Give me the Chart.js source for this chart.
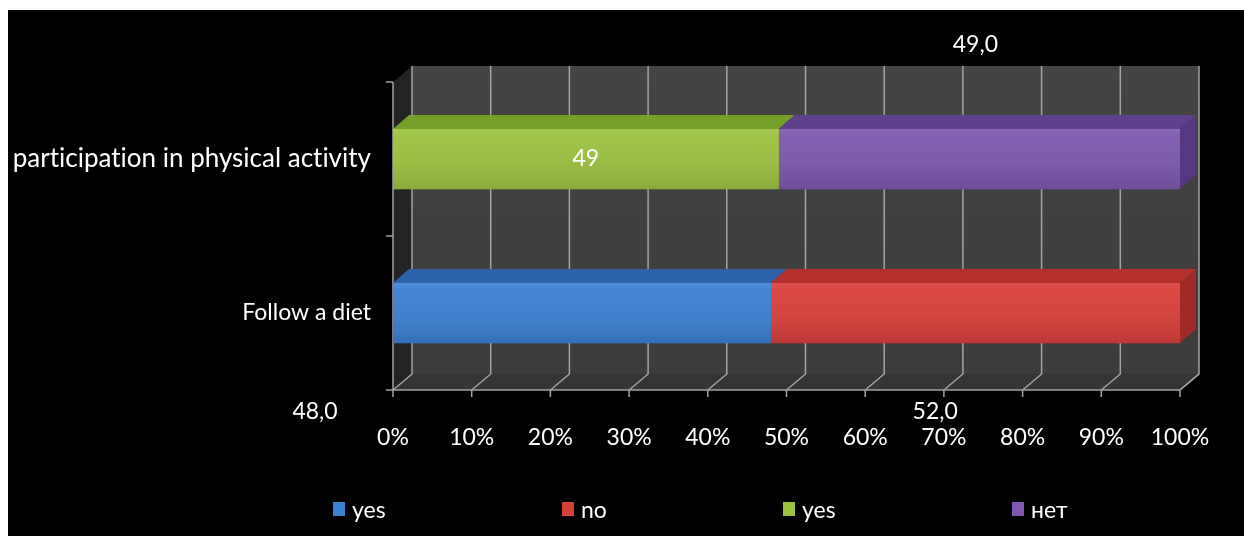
<!DOCTYPE html>
<html>
<head>
<meta charset="utf-8">
<script src="https://cdn.jsdelivr.net/npm/chart.js@4.4.1/dist/chart.umd.min.js"></script>
<style>
  html, body { margin: 0; padding: 0; background: #fff; overflow: hidden; }
  #frame { position: absolute; left: 8px; top: 10px; width: 1236px; height: 526px; background: #000; }
  #myChart { position: absolute; left: 0; top: 0; }
  #legend { position: absolute; left: 325px; top: 485px; display: flex; font-family: Lato, sans-serif; font-size: 23px; color: #fff; }
  .item { display: flex; align-items: center; }
  .box { width: 12px; height: 14px; margin-right: 7px; }
</style>
</head>
<body>
<div id="frame">
  <canvas id="myChart" width="1236" height="526"></canvas>
  <div id="legend"></div>
</div>
<script>
// Données du graphique
const categories = ["participation in physical activity", "Follow a diet"];
const seriesNames = ["yes", "no", "yes", "нет"];
const dietYes = [null, 48];
const dietNo = [null, 52];
const activityYes = [49, null];
const activityNo = [51, null];
// étiquettes de valeurs telles qu'elles apparaissent
const valueLabels = ["48,0", "52,0", "49", "49,0"];
const percentTicks = [0, 10, 20, 30, 40, 50, 60, 70, 80, 90, 100];

// Couleurs : face avant, dessus, côté
const frontColors = ["#3c7fd3", "#d8403c", "#9cc240", "#7e58ae"];
const topColors = ["#2d62ab", "#b3302c", "#75a128", "#5e3f8b"];
const sideColors = ["#28589a", "#a02a27", "#6a9024", "#553880"];

const depth = { x: 19, y: -16 };
const barDepth = { x: 16, y: -14 };
const font = "Lato, sans-serif";

function poly(ctx, pts) {
  ctx.beginPath();
  ctx.moveTo(pts[0][0], pts[0][1]);
  pts.slice(1).forEach((p) => ctx.lineTo(p[0], p[1]));
  ctx.closePath();
  ctx.fill();
}

// Fond 3D : murs, sol et grille
const box3d = {
  id: "box3d",
  beforeDraw(chart) {
    chart.ctx.textRendering = "optimizeSpeed";
  },
  beforeDatasetsDraw(chart) {
    const { ctx, chartArea: a } = chart;
    const xs = chart.scales.x;
    const dx = depth.x, dy = depth.y;
    ctx.save();
    ctx.fillStyle = "#232323";
    poly(ctx, [[a.left, a.top], [a.left + dx, a.top + dy], [a.left + dx, a.bottom + dy], [a.left, a.bottom]]);
    const wall = ctx.createLinearGradient(0, a.top + dy, 0, a.bottom + dy);
    wall.addColorStop(0, "#444444");
    wall.addColorStop(1, "#3c3c3c");
    ctx.fillStyle = wall;
    ctx.fillRect(a.left + dx, a.top + dy, a.right - a.left, a.bottom - a.top);
    ctx.fillStyle = "#353535";
    poly(ctx, [[a.left, a.bottom], [a.left + dx, a.bottom + dy], [a.right + dx, a.bottom + dy], [a.right, a.bottom]]);

    ctx.strokeStyle = "#a3a3a3";
    ctx.lineWidth = 1.5;
    percentTicks.forEach((v) => {
      const px = xs.getPixelForValue(v);
      ctx.beginPath();
      ctx.moveTo(px + dx, a.top + dy);
      ctx.lineTo(px + dx, a.bottom + dy);
      ctx.lineTo(px, a.bottom);
      ctx.lineTo(px, a.bottom + 7);
      ctx.stroke();
    });
    // axes avant
    ctx.beginPath();
    ctx.moveTo(a.left, a.top);
    ctx.lineTo(a.left, a.bottom);
    ctx.lineTo(a.right, a.bottom);
    ctx.lineTo(a.right + dx, a.bottom + dy);
    ctx.stroke();
    const n = categories.length;
    for (let i = 0; i <= n; i++) {
      const py = a.top + (i * (a.bottom - a.top)) / n;
      ctx.beginPath();
      ctx.moveTo(a.left - 7, py);
      ctx.lineTo(a.left, py);
      ctx.stroke();
    }
    ctx.restore();
  },
  afterDatasetsDraw(chart) {
    const { ctx, chartArea: a } = chart;
    const bx = barDepth.x, by = barDepth.y;
    ctx.save();
    chart.data.datasets.forEach((ds, i) => {
      chart.getDatasetMeta(i).data.forEach((bar, j) => {
        if (ds.data[j] == null) return;
        const { x, y, base, height } = bar.getProps(["x", "y", "base", "height"], true);
        const top = y - height / 2, bottom = y + height / 2;
        // léger dégradé sur la face avant
        const g = ctx.createLinearGradient(0, top, 0, bottom);
        g.addColorStop(0, "rgba(255,255,255,0.10)");
        g.addColorStop(0.12, "rgba(255,255,255,0.04)");
        g.addColorStop(1, "rgba(0,0,0,0.12)");
        ctx.fillStyle = g;
        ctx.fillRect(base, top, x - base, height);
        ctx.fillStyle = topColors[i];
        poly(ctx, [[base, top], [base + bx, top + by], [x + bx, top + by], [x, top]]);
        if (x >= a.right - 1) {
          ctx.fillStyle = sideColors[i];
          poly(ctx, [[x, top], [x + bx, top + by], [x + bx, bottom + by], [x, bottom]]);
        }
      });
    });

    // étiquettes de données
    ctx.fillStyle = "#fff";
    ctx.font = "23px " + font;
    ctx.textAlign = "center";
    ctx.textBaseline = "middle";
    const green = chart.getDatasetMeta(2).data[0];
    ctx.fillText(valueLabels[2], (green.x + green.base) / 2, green.y);
    const w = a.right - a.left;
    ctx.fillText(valueLabels[3], a.left + w * 0.74, a.top - 37);
    ctx.fillText(valueLabels[0], a.left - 78, a.bottom + 22);
    ctx.fillText(valueLabels[1], a.left + w * 0.689, a.bottom + 22);
    ctx.restore();
  },
};

const seriesData = [dietYes, dietNo, activityYes, activityNo];

const ctx = document.getElementById("myChart").getContext("2d");
const myChart = new Chart(ctx, {
  type: "bar",
  data: {
    labels: categories,
    datasets: seriesData.map((d, i) => ({
      label: seriesNames[i],
      data: d,
      backgroundColor: frontColors[i],
      borderWidth: 0,
      barThickness: 60,
    })),
  },
  options: {
    indexAxis: "y",
    responsive: false,
    animation: false,
    devicePixelRatio: 1,
    layout: { padding: { left: 0, right: 64, top: 72, bottom: 86 } },
    plugins: { legend: { display: false }, tooltip: { enabled: false } },
    scales: {
      x: {
        stacked: true,
        min: 0,
        max: 100,
        grid: { display: false, drawTicks: false },
        border: { display: false },
        ticks: {
          stepSize: 10,
          maxRotation: 0,
          autoSkip: false,
          callback: (v) => v + "%",
          color: "#fff",
          font: { family: font, size: 23 },
          padding: 34,
        },
        afterFit: (s) => { s.height = 60; },
      },
      y: {
        stacked: true,
        grid: { display: false, drawTicks: false },
        border: { display: false },
        ticks: {
          color: "#fff",
          font: (c) => ({ family: font, size: c.index === 0 ? 26 : 23 }),
          padding: 22,
        },
        afterFit: (s) => { s.width = 385; },
      },
    },
  },
  plugins: [box3d],
});

// Légende HTML
const legendWidths = [229, 221, 229, 120];
const legend = document.getElementById("legend");
myChart.data.datasets.forEach((ds, i) => {
  const item = document.createElement("div");
  item.className = "item";
  item.style.width = legendWidths[i] + "px";
  item.innerHTML = '<span class="box" style="background:' + frontColors[i] + '"></span>' + ds.label;
  legend.appendChild(item);
});
</script>
</body>
</html>
